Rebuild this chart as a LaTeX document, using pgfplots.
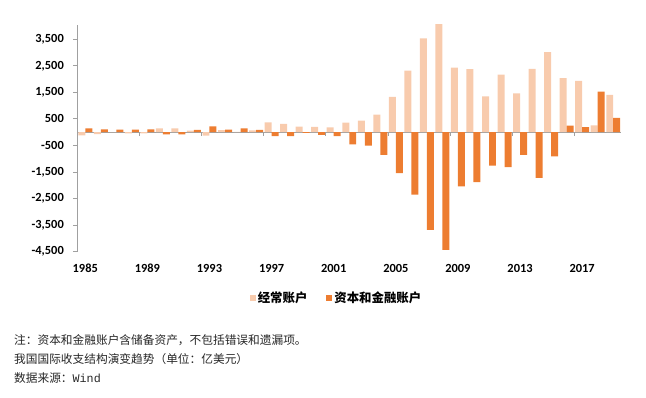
\documentclass[border=0pt]{standalone}
\usepackage{pgfplots}
\usepackage{pgfplotstable}
\pgfplotsset{compat=1.18}
\usepackage{fontspec}
\setmainfont{Carlito}
\newfontfamily\cjk{Noto Sans CJK SC}
\newfontfamily\monof{Liberation Mono}
\definecolor{lightc}{HTML}{F8CBAD}
\definecolor{darkc}{HTML}{ED7D31}
\definecolor{axgray}{RGB}{160,160,160}
\pgfplotstableread{
i year ca ka
0 1985 -114 150
1 1986 -70 110
2 1987 3 100
3 1988 -38 100
4 1989 -43 110
5 1990 150 -80
6 1991 150 -80
7 1992 64 90
8 1993 -130 220
9 1994 77 95
10 1995 16 150
11 1996 72 90
12 1997 370 -150
13 1998 315 -150
14 1999 211 -20
15 2000 205 -100
16 2001 180 -150
17 2002 360 -460
18 2003 435 -500
19 2004 660 -850
20 2005 1335 -1540
21 2006 2320 -2350
22 2007 3540 -3680
23 2008 4206 -4430
24 2009 2433 -2040
25 2010 2380 -1880
26 2011 1350 -1255
27 2012 2170 -1310
28 2013 1460 -855
29 2014 2385 -1720
30 2015 3020 -905
31 2016 2040 250
32 2017 1935 190
33 2018 255 1530
34 2019 1405 545
}\data
\begin{document}
\begin{tikzpicture}
\path[use as bounding box] (0,0) rectangle (646pt,-398pt);
\begin{axis}[
  at={(77.5pt,-251.7pt)}, anchor=south west,
  scale only axis, width=543.5pt, height=226.7pt,
  xmin=-0.5, xmax=34.5, ymin=-4500, ymax=4040,
  axis x line*=middle, axis y line*=left,
  axis line style={draw=axgray, line width=1.3pt},
  ytick={-4500,-3500,...,3500},
  yticklabels={{-4,500},{-3,500},{-2,500},{-1,500},{-500},{500},{1,500},{2,500},{3,500}},
  xtick={0,4,...,32},
  xticklabels={1985,1989,1993,1997,2001,2005,2009,2013,2017},
  minor xtick={3.5,7.5,...,31.5},
  major x tick style={draw=none},
  minor x tick style={draw=axgray, line width=1pt, yshift=-2pt},
  minor tick length=4pt,
  xtick align=center,
  ytick align=outside,
  major y tick style={draw=axgray, line width=1pt},
  major tick length=4.5pt,
  tick label style={font=\bfseries\fontsize{12.4}{14}\selectfont, text=black},
  xticklabel style={anchor=north, yshift=-126pt},
  yticklabel style={anchor=east, inner sep=0pt, xshift=-9pt},
  legend style={at={(0.4766,-0.204)}, anchor=center, draw=none, fill=none,
    legend columns=2, font=\cjk\bfseries\fontsize{12.4}{14}\selectfont,
    /tikz/every even column/.append style={column sep=17pt}},
]
\addplot[ybar, bar width=0.45, bar shift=-0.225, fill=lightc, draw=none,
  legend image code/.code={\fill[lightc] (0pt,-3pt) rectangle (6pt,3pt);}]
  table[x=i, y=ca]{\data};
\addlegendentry{经常账户}
\addplot[ybar, bar width=0.45, bar shift=0.225, fill=darkc, draw=none,
  legend image code/.code={\fill[darkc] (0pt,-3pt) rectangle (6pt,3pt);}]
  table[x=i, y=ka]{\data};
\addlegendentry{资本和金融账户}
\end{axis}
\begin{scope}[every node/.style={anchor=west, inner sep=0pt, text=black!85, font=\cjk\fontsize{11.7}{14}\selectfont}]
\node at (14pt,-340pt) {注：资本和金融账户含储备资产，不包括错误和遗漏项。};
\node at (14pt,-359.3pt) {我国国际收支结构演变趋势（单位：亿美元）};
\node at (14pt,-378.3pt) {数据来源：{\monof Wind}};
\end{scope}
\end{tikzpicture}
\end{document}
